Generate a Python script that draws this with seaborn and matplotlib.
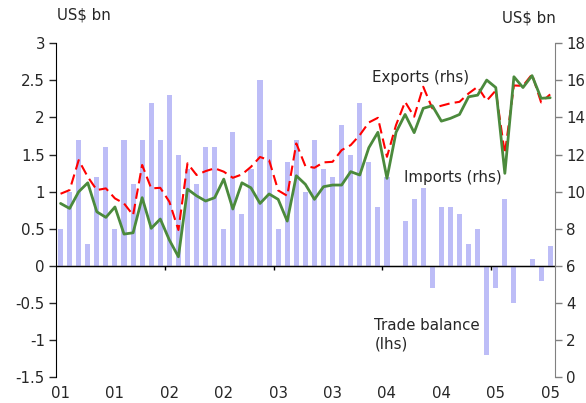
import numpy as np
import matplotlib
matplotlib.use("Agg")
import matplotlib.pyplot as plt
import seaborn as sns

# Monthly data, Jan 2001 - Jul 2005
months = np.arange(55)
year_labels = ["01", "01", "02", "02", "03", "03", "04", "04", "05", "05"]

# Trade balance, US$ bn (lhs)
balance = [0.5, 1.0, 1.7, 0.3, 1.2, 1.6, 0.5, 1.7, 1.1, 1.7,
           2.2, 1.7, 2.3, 1.5, 1.3, 1.1, 1.6, 1.6, 0.5, 1.8,
           0.7, 1.3, 2.5, 1.7, 0.5, 1.4, 1.7, 1.0, 1.7, 1.3,
           1.2, 1.9, 1.5, 2.2, 1.4, 0.8, 1.2, 0.0, 0.6, 0.9,
           1.05, -0.3, 0.8, 0.8, 0.7, 0.3, 0.5, -1.2, -0.3, 0.9,
           -0.5, 0.0, 0.1, -0.2, 0.27]

# Exports, US$ bn (rhs)
exports = [9.89, 10.09, 11.70, 10.80, 10.09, 10.18, 9.64, 9.37, 8.74, 11.44,
           10.18, 10.21, 9.46, 7.94, 11.53, 10.90, 11.11, 11.26, 11.08, 10.75,
           10.93, 11.34, 11.87, 11.70, 10.07, 9.78, 12.60, 11.38, 11.29, 11.58,
           11.61, 12.24, 12.51, 13.05, 13.73, 13.98, 11.88, 13.59, 14.84, 14.04,
           15.65, 14.49, 14.63, 14.76, 14.84, 15.29, 15.65, 14.90, 15.45, 12.05,
           15.72, 15.70, 16.32, 14.81, 15.24]

# Imports, US$ bn (rhs)
imports = [9.37, 9.10, 10.00, 10.48, 8.92, 8.62, 9.18, 7.72, 7.79, 9.68,
           8.03, 8.53, 7.40, 6.50, 10.14, 9.78, 9.50, 9.68, 10.68, 9.07,
           10.48, 10.21, 9.37, 9.88, 9.59, 8.42, 10.86, 10.40, 9.59, 10.27,
           10.36, 10.36, 11.08, 10.90, 12.37, 13.20, 10.72, 13.20, 14.16, 13.18,
           14.49, 14.63, 13.80, 13.95, 14.16, 15.11, 15.20, 16.01, 15.61, 10.99,
           16.19, 15.61, 16.25, 15.03, 15.06]

sns.set_style("ticks")
plt.rcParams["font.family"] = ["DejaVu Sans"]
plt.rcParams["font.size"] = 10.8

fig = plt.figure(figsize=(5.86, 4.03), dpi=100)
ax = fig.add_axes([0.0956, 0.0633, 0.851, 0.8297])

sns.barplot(x=months, y=balance, ax=ax, color="#bdbdf7", width=0.56,
            saturation=1, order=list(months), linewidth=0, edgecolor="none")
ax.set_xlim(-0.5, 54.5)
ax.set_ylim(-1.5, 3)
ax.set_yticks([-1.5, -1, -0.5, 0, 0.5, 1, 1.5, 2, 2.5, 3])
ax.set_yticklabels(["-1.5", "-1", "-0.5", "0", "0.5", "1", "1.5", "2", "2.5", "3"])
ax.set_xlabel("")
ax.set_ylabel("")

# year labels every six months at the bottom, no tick marks
ax.set_xticks(months[::6])
ax.set_xticklabels(year_labels)
ax.tick_params(axis="x", length=0, pad=6)
ax.tick_params(axis="y", direction="out", length=5, width=1, pad=3)
ax.spines["bottom"].set_visible(False)
ax.spines["top"].set_visible(False)
ax.spines["right"].set_visible(False)
ax.spines["left"].set_color("black")

# zero line with year boundary ticks
ax.axhline(0, color="black", linewidth=1, zorder=5)
zero_axis = ax.secondary_xaxis(1 / 3)
zero_axis.set_xticks(np.arange(11.5, 54, 12))
zero_axis.set_xticklabels([])
zero_axis.tick_params(direction="out", length=3, width=1, color="black")
zero_axis.spines["bottom"].set_color("black")

ax2 = ax.twinx()
sns.lineplot(x=months, y=exports, ax=ax2, color="#ff0000", linewidth=1.5,
             linestyle=(0, (5, 2.5)))
sns.lineplot(x=months, y=imports, ax=ax2, color="#4b8a3c", linewidth=2.0)
ax2.set_ylim(0, 18)
ax2.set_yticks(range(0, 19, 2))
ax2.set_ylabel("")
ax2.tick_params(axis="y", direction="out", length=5, width=1, color="#808080", pad=3)
for side in ["top", "left", "bottom"]:
    ax2.spines[side].set_visible(False)
ax2.spines["right"].set_color("#808080")
ax2.set_xlim(-0.5, 54.5)

ax2.text(34.4, 16.15, "Exports (rhs)", va="center", ha="left")
ax2.text(37.9, 10.75, "Imports (rhs)", va="center", ha="left")
ax.text(34.6, -0.92, "Trade balance\n(lhs)", va="center", ha="left", linespacing=1.3)

fig.text(0.097, 0.962, "US$ bn", va="center", ha="left")
fig.text(0.948, 0.955, "US$ bn", va="center", ha="right")

fig.savefig("out.png", dpi=100)
